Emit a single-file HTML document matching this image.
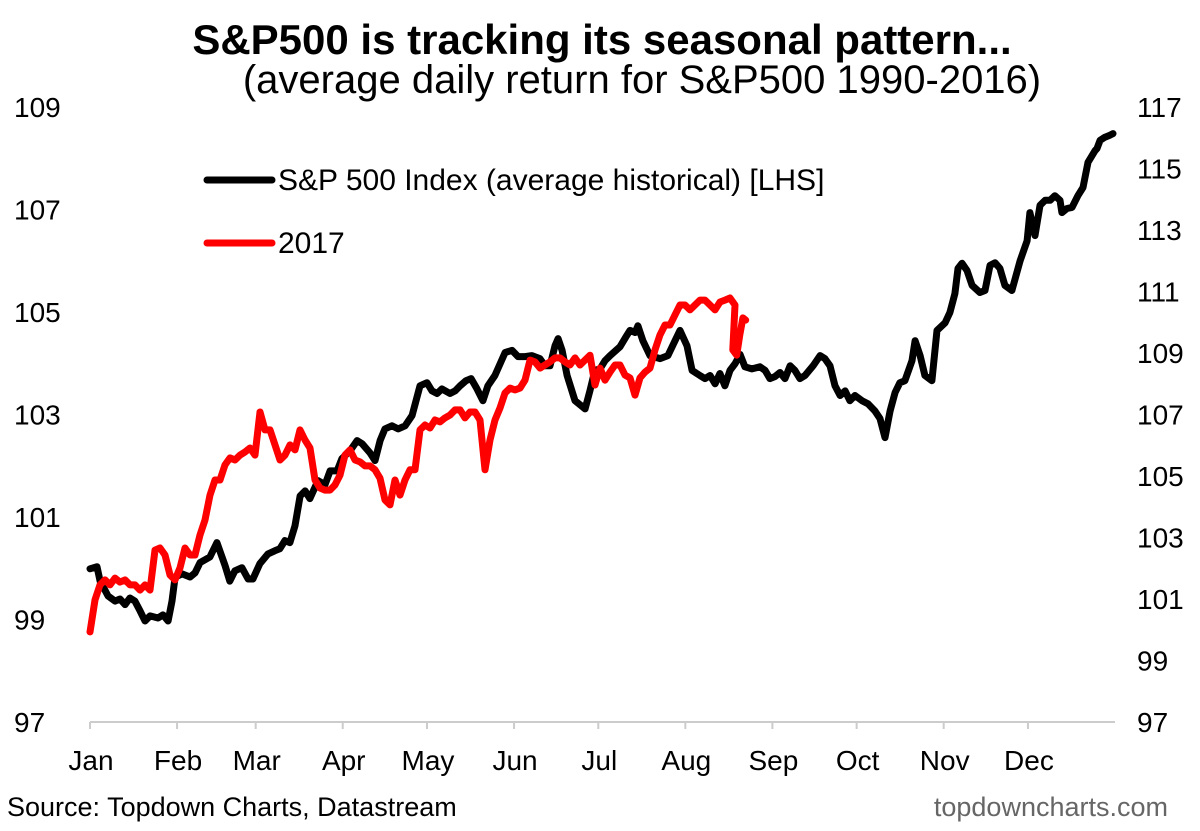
<!DOCTYPE html>
<html><head><meta charset="utf-8"><style>
body{margin:0;background:#fff;}
svg{display:block;font-family:"Liberation Sans",Arial,sans-serif;}
</style></head><body>
<svg id="chart" width="1200" height="831" viewBox="0 0 1200 831">
<text x="602" y="54" text-anchor="middle" font-size="42" font-weight="bold">S&amp;P500 is tracking its seasonal pattern...</text>
<text x="642" y="93" text-anchor="middle" font-size="40">(average daily return for S&amp;P500 1990-2016)</text>
<g id="yl"></g>
<g id="yr"></g>
<g id="xa"></g>
<g id="series"></g>
<g>
<line x1="207" y1="180" x2="272" y2="180" stroke="#000" stroke-width="7" stroke-linecap="round"/>
<text x="278" y="190" font-size="30">S&amp;P 500 Index (average historical) [LHS]</text>
<line x1="207" y1="243" x2="272" y2="243" stroke="#f00" stroke-width="7" stroke-linecap="round"/>
<text x="278" y="253" font-size="30">2017</text>
</g>
<text x="7" y="816" font-size="27">Source: Topdown Charts, Datastream</text>
<text x="1168" y="816" text-anchor="end" font-size="27" fill="#666">topdowncharts.com</text>
</svg>
<script>
const leftTicks=[97,99,101,103,105,107,109];
const rightTicks=[97,99,101,103,105,107,109,111,113,115,117];
const months=["Jan","Feb","Mar","Apr","May","Jun","Jul","Aug","Sep","Oct","Nov","Dec"];
const monthStart=[0,31,59,90,120,151,181,212,243,273,304,334];
const histDays=[0,2.5,3.6,6.4,8.9,10.7,12.5,14.2,16,17.8,19.6,21.4,24.2,26,27.8,29.2,30.3,32.8,35.6,37.4,39.2,42.7,45.2,48.1,49.8,51.6,54.1,56.3,58,60.5,63.4,65.8,67.6,69.4,71.2,73,74.8,76.6,78.3,81.2,83.7,85.5,88,89.7,92.6,95.1,96.9,99.7,101.5,103.3,105,107.5,109.7,112.2,114.7,117.5,120,121.8,123.6,125.3,128.2,130,131.8,133.9,135.7,137.8,139.9,141.7,144.2,147.8,150.3,152.4,154.9,157.4,160.2,162,163.8,165.6,166.7,168.1,169.9,172.7,176.3,178,179.8,181.6,183.4,185.2,188.7,190.9,192.3,194.1,195.1,196.9,199.4,203,205.8,208.3,210.1,212.6,214.4,217.2,219,220.8,222.6,224.3,226.1,227.9,229.7,231.5,233.2,235.7,238.6,240.4,242.1,243.9,245.7,247.5,249.3,251,252.8,254.6,257.5,260,261.7,263.5,265.3,267.1,268.9,270.6,272.4,274.9,277,279.5,281.3,283.1,284.9,286.7,288.4,290.2,292.7,293.8,295.6,297.3,299.8,301.6,304.5,306.2,308,309.1,310.5,312.3,314.1,316.9,318.7,320.5,322.3,324,325.8,328.3,331.2,333.7,334.7,336.5,338.3,340.1,341.9,343.6,345.4,346.1,347.9,349.7,351.8,353.6,355.4,357.9,358.6,359.7,361.4,363.2,364.3];
const histValues=[99.99,100.03,99.75,99.46,99.36,99.40,99.29,99.42,99.36,99.17,98.97,99.07,99.03,99.09,98.97,99.36,99.83,99.89,99.83,99.91,100.11,100.22,100.50,100.05,99.75,99.95,100.01,99.79,99.79,100.09,100.28,100.34,100.38,100.54,100.50,100.83,101.41,101.51,101.36,101.71,101.63,101.90,101.90,102.14,102.29,102.49,102.43,102.25,102.10,102.49,102.72,102.78,102.72,102.78,102.98,103.56,103.62,103.46,103.41,103.50,103.41,103.46,103.56,103.66,103.70,103.50,103.27,103.56,103.76,104.21,104.25,104.13,104.13,104.15,104.09,103.95,103.95,104.34,104.48,104.25,103.76,103.27,103.11,103.46,103.86,103.89,104.05,104.15,104.32,104.52,104.64,104.60,104.73,104.44,104.15,104.09,104.15,104.44,104.64,104.34,103.86,103.76,103.70,103.76,103.60,103.80,103.56,103.86,103.99,104.17,103.93,103.89,103.93,103.86,103.70,103.74,103.82,103.70,103.95,103.86,103.70,103.76,103.95,104.15,104.09,103.95,103.56,103.37,103.46,103.27,103.37,103.27,103.21,103.07,102.92,102.55,103.07,103.43,103.62,103.66,104.05,104.44,104.15,103.76,103.66,104.64,104.79,104.99,105.36,105.85,105.95,105.81,105.52,105.38,105.42,105.91,105.96,105.85,105.52,105.42,106.00,106.39,106.94,106.49,107.08,107.18,107.18,107.27,107.18,106.94,107.02,107.04,107.27,107.43,107.92,108.15,108.19,108.35,108.41,108.45,108.48];
const y2017Values=[99.93,100.97,101.46,101.62,101.46,101.68,101.55,101.62,101.46,101.46,101.29,101.46,101.29,102.59,102.66,102.43,101.78,101.62,102.01,102.66,102.43,102.43,103.08,103.57,104.38,104.87,104.87,105.36,105.59,105.52,105.68,105.78,105.91,105.68,107.08,106.50,106.50,106.01,105.52,105.68,106.01,105.85,106.50,106.17,105.91,104.87,104.61,104.54,104.54,104.71,105.03,105.68,105.85,105.52,105.46,105.33,105.33,105.20,104.93,104.22,104.06,104.87,104.38,104.87,105.20,105.20,106.50,106.66,106.56,106.82,106.76,106.89,106.98,107.15,107.15,106.89,107.08,107.08,106.82,105.20,106.17,106.82,107.21,107.70,107.86,107.80,107.86,108.12,108.77,108.71,108.51,108.61,108.71,108.84,108.84,108.71,108.61,108.84,108.61,108.77,108.93,107.96,108.51,108.12,108.38,108.61,108.61,108.28,108.19,107.63,108.19,108.38,108.51,109.10,109.59,109.91,109.91,110.24,110.56,110.56,110.40,110.56,110.72,110.72,110.56,110.40,110.66,110.72,110.79,110.56,109.10,108.93,109.59,110.14,110.07];
const y2017TailDays=[228.9,230.3,231.4,232.5,233.5];

const NS="http://www.w3.org/2000/svg";
const X0=90,X1=1115,YB=722,YT=107;
const xs=d=>X0+d/365*(X1-X0);
const yL=v=>YB-(v-97)/(109-97)*(YB-YT);
const yR=v=>YB-(v-97)/(117-97)*(YB-YT);
function mk(tag,attrs,parent){const e=document.createElementNS(NS,tag);for(const k in attrs)e.setAttribute(k,attrs[k]);parent.appendChild(e);return e;}
const gl=document.getElementById('yl'),gr=document.getElementById('yr'),gx=document.getElementById('xa'),gs=document.getElementById('series');
leftTicks.forEach(v=>{const t=mk('text',{x:14,y:yL(v)+10,'font-size':28},gl);t.textContent=v;

});
rightTicks.forEach(v=>{const t=mk('text',{x:1137,y:yR(v)+10,'font-size':28},gr);t.textContent=v;

});
const ax=mk('line',{x1:X0,y1:YB,x2:X1,y2:YB,stroke:'#ccc','stroke-width':2},gx);


months.forEach((m,i)=>{
 const tk=mk('line',{x1:xs(monthStart[i]),y1:YB,x2:xs(monthStart[i]),y2:YB+7,stroke:'#ccc','stroke-width':2},gx);
 
 
 const t=mk('text',{x:xs(monthStart[i])+1,y:770,'text-anchor':'middle','font-size':28},gx);t.textContent=m;
 
 
});
const hp=histDays.map((d,i)=>xs(d).toFixed(1)+','+yL(histValues[i]).toFixed(1)).join(' ');
const hl=mk('polyline',{points:hp,fill:'none',stroke:'#000','stroke-width':7,'stroke-linejoin':'round','stroke-linecap':'round'},gs);


const n=y2017Values.length,nt=y2017TailDays.length;
const rDays=y2017Values.map((_,i)=>i<n-nt?i*1.7805:y2017TailDays[i-(n-nt)]);
const rp=y2017Values.map((v,i)=>xs(rDays[i]).toFixed(1)+','+yR(v).toFixed(1)).join(' ');
const rl=mk('polyline',{points:rp,fill:'none',stroke:'#f00','stroke-width':7,'stroke-linejoin':'round','stroke-linecap':'round'},gs);


</script>
</body></html>
